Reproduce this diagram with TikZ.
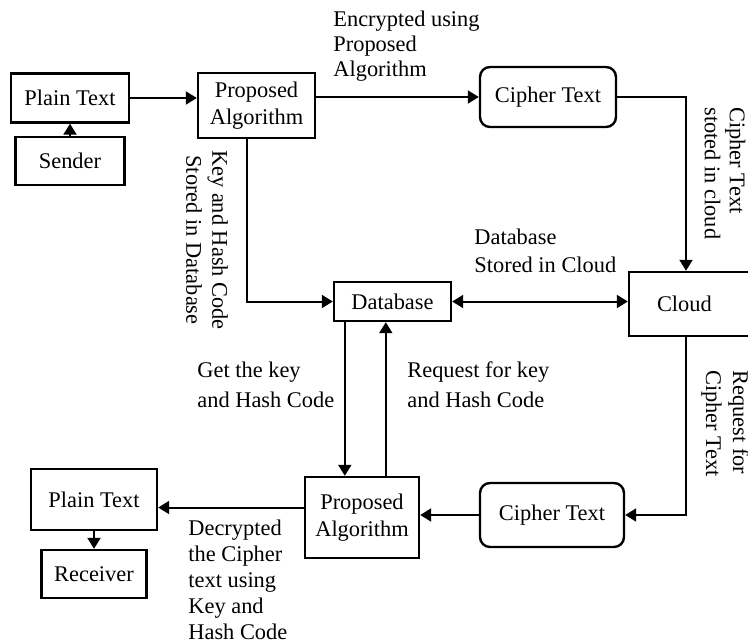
\documentclass[tikz,border=0pt]{standalone}
\usepackage{fontspec}
\setmainfont{Liberation Serif}
\usetikzlibrary{arrows.meta}
\tikzset{
	box/.style={draw, line width=1.2pt, align=center, font=\fontsize{11.2}{13.5}\selectfont},
	roundbox/.style={box, rounded corners=5pt},
	lbl/.style={align=left, inner sep=0pt, font=\fontsize{11.2}{13.5}\selectfont},
	flow/.style={line width=1pt, -{Triangle[length=5.5pt,width=6.5pt]}},
}

\begin{document}
\begin{tikzpicture}[x=0.5pt, y=-0.5pt]
			\useasboundingbox (0,0) rectangle (748,643);
			\clip (0,0) rectangle (748,643);
			\node[box, minimum width=59pt, minimum height=24.5pt] (plainA) at (70,98) {Plain Text};
			\node[box, minimum width=54.5pt, minimum height=24pt] (sender) at (70,161) {Sender};
			\node[box, minimum width=58.5pt, minimum height=32.5pt] (propA) at (256.5,105.5) {Proposed\\Algorithm};
			\node[roundbox, minimum width=68pt, minimum height=30pt] (cipherA) at (548,97) {Cipher Text};
			\node[box, minimum width=58.5pt, minimum height=19.5pt] (database) at (392.5,301.5) {Database};
			\node[box, align=left, minimum width=65pt, minimum height=32pt, inner xsep=14pt, text width=37pt] (cloud) at (694,304) {Cloud};
			\node[roundbox, minimum width=72pt, minimum height=32pt] (cipherB) at (552,515) {Cipher Text};
			\node[box, minimum width=57pt, minimum height=40.5pt] (propB) at (362,517.5) {Proposed\\Algorithm};
			\node[box, minimum width=63pt, minimum height=30.5pt] (plainB) at (94,499.5) {Plain Text};
			\node[box, minimum width=52.5pt, minimum height=24pt] (receiver) at (94,574) {Receiver};

			\node[lbl, anchor=west, font=\fontsize{11.2}{12.5}\selectfont] (enclbl) at (333,46) {Encrypted using\\Proposed\\Algorithm};
			\node[lbl, align=center, rotate=-90, font=\fontsize{11.2}{13}\selectfont] (keylbl) at (207,240) {Key and Hash Code\\Stored in Database};
			\node[lbl, rotate=-90, anchor=west, font=\fontsize{11.2}{12.5}\selectfont] (ctlbl) at (725,107) {Cipher Text\\stoted in cloud};
			\node[lbl, anchor=west, font=\fontsize{11.2}{14}\selectfont] (dblbl) at (474,251) {Database\\Stored in Cloud};
			\node[lbl, anchor=west, font=\fontsize{11.2}{15}\selectfont] (getlbl) at (197,385) {Get the key\\and Hash Code};
			\node[lbl, anchor=west, font=\fontsize{11.2}{15}\selectfont] (reqlbl) at (407,385) {Request for key\\and Hash Code};
			\node[lbl, rotate=-90, anchor=west] (rclbl) at (725,370) {Request for\\Cipher Text};
			\node[lbl, anchor=west, font=\fontsize{11.2}{13}\selectfont] (declbl) at (188,580) {Decrypted\\the Cipher\\text using\\Key and\\Hash Code};

			\coordinate (paout) at ([xshift=25pt]propA.south west);
			\coordinate (cin) at ([xshift=-4pt]cloud.north);
			\coordinate (cout) at ([xshift=-4pt]cloud.south);
			\coordinate (dbout) at ([xshift=6pt]database.south west);
			\coordinate (pbout) at ([xshift=41pt]propB.north west);
			\coordinate (pbleft) at ([yshift=5pt]propB.west);

			\draw[flow] (sender) -- (plainA);
			\draw[flow] (plainA) -- (plainA -| propA.west);
			\draw[flow] (propA.east |- cipherA.west) -- (cipherA.west);
			\draw[flow] (paout) |- (database.west);
			\draw[flow] (cipherA.east) -| (cin);
			\draw[flow, {Triangle[length=5.5pt,width=6.5pt]}-{Triangle[length=5.5pt,width=6.5pt]}] (database.east) -- (database.east -| cloud.west);
			\draw[flow] (cout) |- (cipherB.east);
			\draw[flow] (cipherB.west) -- (cipherB.west -| propB.east);
			\draw[flow] (dbout) -- (dbout |- propB.north);
			\draw[flow] (pbout) -- (pbout |- database.south);
			\draw[flow] (pbleft) -- (pbleft -| plainB.east);
			\draw[flow] (plainB) -- (receiver);
\end{tikzpicture}
\end{document}
